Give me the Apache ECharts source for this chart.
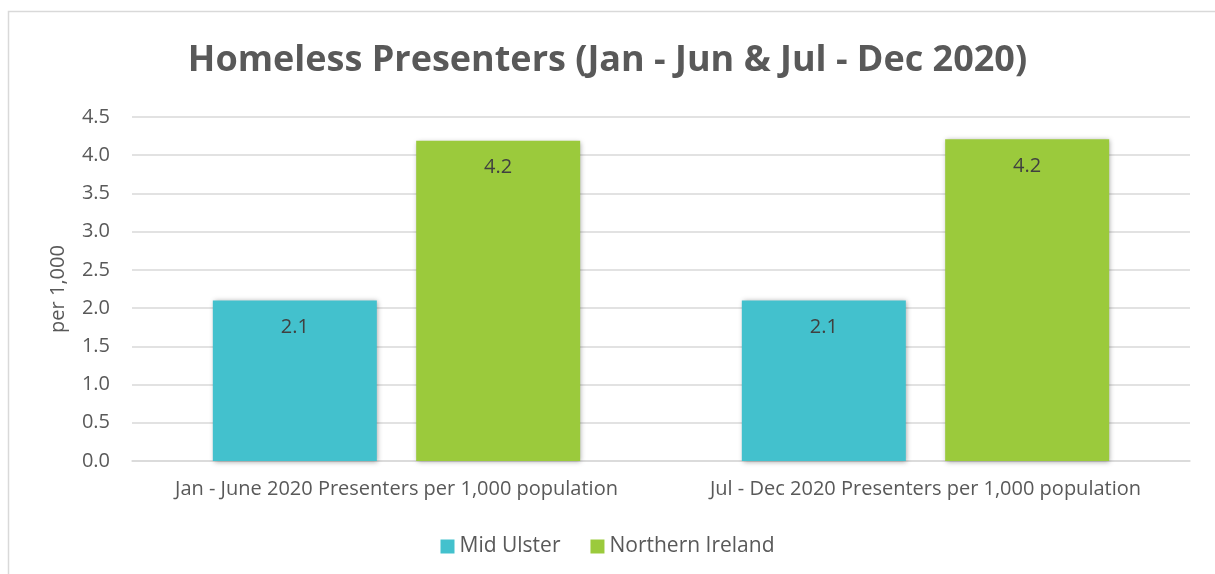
<!DOCTYPE html>
<html>
<head>
<meta charset="utf-8">
<script src="https://cdn.jsdelivr.net/npm/echarts@6/dist/echarts.min.js"></script>
<style>
  html, body { margin: 0; padding: 0; background: #fff; }
  #chart { width: 1215px; height: 574px; }
</style>
</head>
<body>
<div id="chart"></div>
<script>
// categories and values
var categories = ['Jan - June 2020 Presenters per 1,000 population', 'Jul - Dec 2020 Presenters per 1,000 population'];
var midUlster = [2.1, 2.1];
var northernIreland = [4.19, 4.21];
var seriesNames = ['Mid Ulster', 'Northern Ireland'];

var font = '"Open Sans", "Noto Sans", sans-serif';
var txt = '#595959';

var barShadow = { shadowBlur: 5, shadowColor: 'rgba(0,0,0,0.35)', shadowOffsetX: 1, shadowOffsetY: 1 };

function label() {
  return {
    show: true,
    position: 'insideTop',
    distance: 17,
    color: '#404040',
    fontFamily: font,
    fontSize: 20,
    formatter: function (p) { return p.value.toFixed(1); }
  };
}

var chart = echarts.init(document.getElementById('chart'));
chart.setOption({
  animation: false,
  graphic: [{
    type: 'rect',
    shape: { x: 8.5, y: 11.5, width: 1300, height: 700 },
    style: { fill: 'none', stroke: '#d9d9d9', lineWidth: 1.5 },
    silent: true
  }],
  title: {
    text: 'Homeless Presenters (Jan - Jun & Jul - Dec 2020)',
    left: 'center',
    top: 38,
    textStyle: { color: txt, fontFamily: font, fontWeight: 'bold', fontSize: 36 }
  },
  legend: {
    data: seriesNames,
    bottom: 12,
    left: 'center',
    icon: 'rect',
    itemWidth: 14,
    itemHeight: 14,
    itemGap: 30,
    textStyle: { color: txt, fontFamily: font, fontSize: 21 }
  },
  grid: { left: 132, right: 25, top: 117, bottom: 113 },
  xAxis: {
    type: 'category',
    data: categories,
    axisTick: { show: false },
    axisLine: { lineStyle: { color: '#d9d9d9', width: 1.5 } },
    axisLabel: { color: txt, fontFamily: font, fontSize: 20, margin: 18, interval: 0, hideOverlap: false }
  },
  yAxis: {
    type: 'value',
    min: 0,
    max: 4.5,
    interval: 0.5,
    name: 'per 1,000',
    nameLocation: 'middle',
    nameGap: 64,
    nameTextStyle: { color: txt, fontFamily: font, fontSize: 20 },
    axisLabel: { color: txt, fontFamily: font, fontSize: 20, margin: 22, formatter: function (v) { return v.toFixed(1); } },
    splitLine: { lineStyle: { color: '#d9d9d9', width: 1.5 } }
  },
  series: [{
    name: seriesNames[0],
    type: 'bar',
    data: midUlster,
    barWidth: '31%',
    barGap: '24%',
    itemStyle: Object.assign({ color: '#43C1CD' }, barShadow),
    label: label()
  }, {
    name: seriesNames[1],
    type: 'bar',
    data: northernIreland,
    barWidth: '31%',
    itemStyle: Object.assign({ color: '#9BCA3C' }, barShadow),
    label: label()
  }]
});
</script>
</body>
</html>
